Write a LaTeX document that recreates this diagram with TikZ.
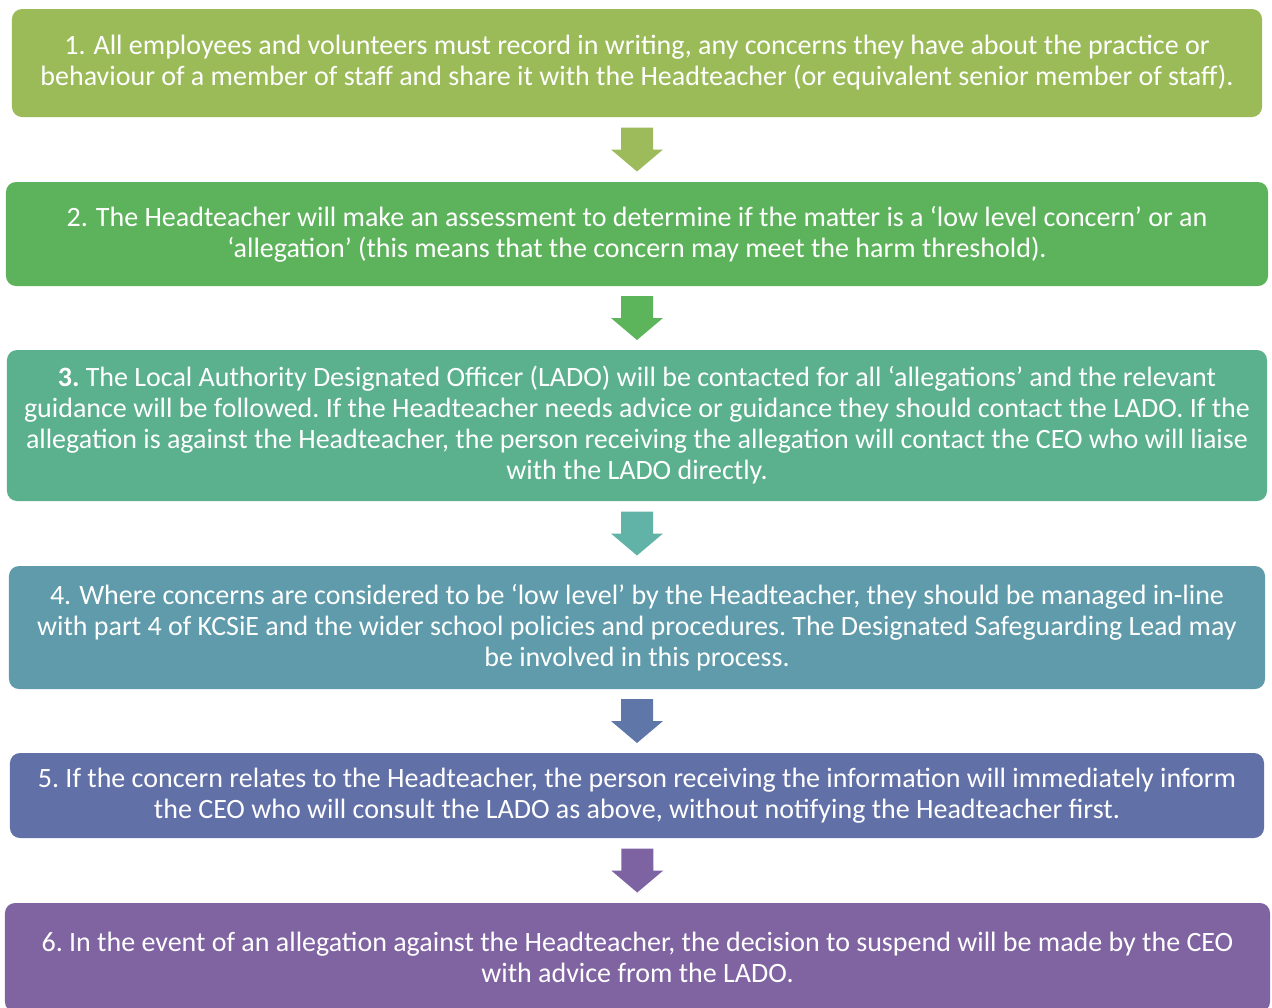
\documentclass[tikz,border=0pt]{standalone}
\usepackage{fontspec}
\setmainfont{Carlito}
\usetikzlibrary{calc}
\frenchspacing
\definecolor{c1}{HTML}{9BBB59}
\definecolor{c2}{HTML}{5DB35B}
\definecolor{c3}{HTML}{5BB08E}
\definecolor{c4}{HTML}{5F9BAA}
\definecolor{c5}{HTML}{6270A8}
\definecolor{c6}{HTML}{8064A2}
\definecolor{a1}{HTML}{9DBB5A}
\definecolor{a2}{HTML}{5CB55A}
\definecolor{a3}{HTML}{60B3A6}
\definecolor{a4}{HTML}{5F77A8}
\definecolor{a5}{HTML}{7E63A3}
\newcommand{\blockarrow}[4]{%
  \coordinate (#1) at ($(#3.south)!0.5!(#4.north)$);
  \fill[#2] ($(#1)+(-16,-22)$) -- ($(#1)+(16,-22)$) -- ($(#1)+(16,0)$) -- ($(#1)+(26,0)$)
    -- ($(#1)+(0,22)$) -- ($(#1)+(-26,0)$) -- ($(#1)+(-16,0)$) -- cycle;}
\begin{document}
\begin{tikzpicture}[x=1bp,y=-1bp,
  box/.style={rectangle, rounded corners=10bp, inner sep=0pt, text=white, align=center,
    font=\fontsize{28bp}{31bp}\selectfont\frenchspacing}]
\useasboundingbox (0,0) rectangle (1272,1008);
\node[box, fill=c1, minimum width=1250bp, minimum height=108bp] (b1) at (637,63)
  {1.\hspace{8bp}All employees and volunteers must record in writing, any concerns they have about the practice or\\
   behaviour of a member of staff and share it with the Headteacher (or equivalent senior member of staff).};
\node[box, fill=c2, minimum width=1262bp, minimum height=104bp] (b2) at (637,234)
  {2.\hspace{8bp}The Headteacher will make an assessment to determine if the matter is a ‘low level concern’ or an\\
   ‘allegation’ (this means that the concern may meet the harm threshold).};
\node[box, fill=c3, minimum width=1260bp, minimum height=151bp] (b3) at (637,425.5)
  {\textbf{3.} The Local Authority Designated Officer (LADO) will be contacted for all ‘allegations’ and the relevant\\
   guidance will be followed. If the Headteacher needs advice or guidance they should contact the LADO. If the\\
   allegation is against the Headteacher, the person receiving the allegation will contact the CEO who will liaise\\
   with the LADO directly.};
\node[box, fill=c4, minimum width=1256bp, minimum height=123bp] (b4) at (637,627.5)
  {4.\hspace{8bp}Where concerns are considered to be ‘low level’ by the Headteacher, they should be managed in-line\\
   with part 4 of KCSiE and the wider school policies and procedures. The Designated Safeguarding Lead may\\
   be involved in this process.};
\node[box, fill=c5, minimum width=1254bp, minimum height=85bp] (b5) at (637,795.5)
  {5. If the concern relates to the Headteacher, the person receiving the information will immediately inform\\
   the CEO who will consult the LADO as above, without notifying the Headteacher first.};
\node[box, fill=c6, minimum width=1265bp, minimum height=109bp] (b6) at (637.5,957.5)
  {6. In the event of an allegation against the Headteacher, the decision to suspend will be made by the CEO\\
   with advice from the LADO.};
\blockarrow{m1}{a1}{b1}{b2}
\blockarrow{m2}{a2}{b2}{b3}
\blockarrow{m3}{a3}{b3}{b4}
\blockarrow{m4}{a4}{b4}{b5}
\blockarrow{m5}{a5}{b5}{b6}
\end{tikzpicture}
\end{document}
